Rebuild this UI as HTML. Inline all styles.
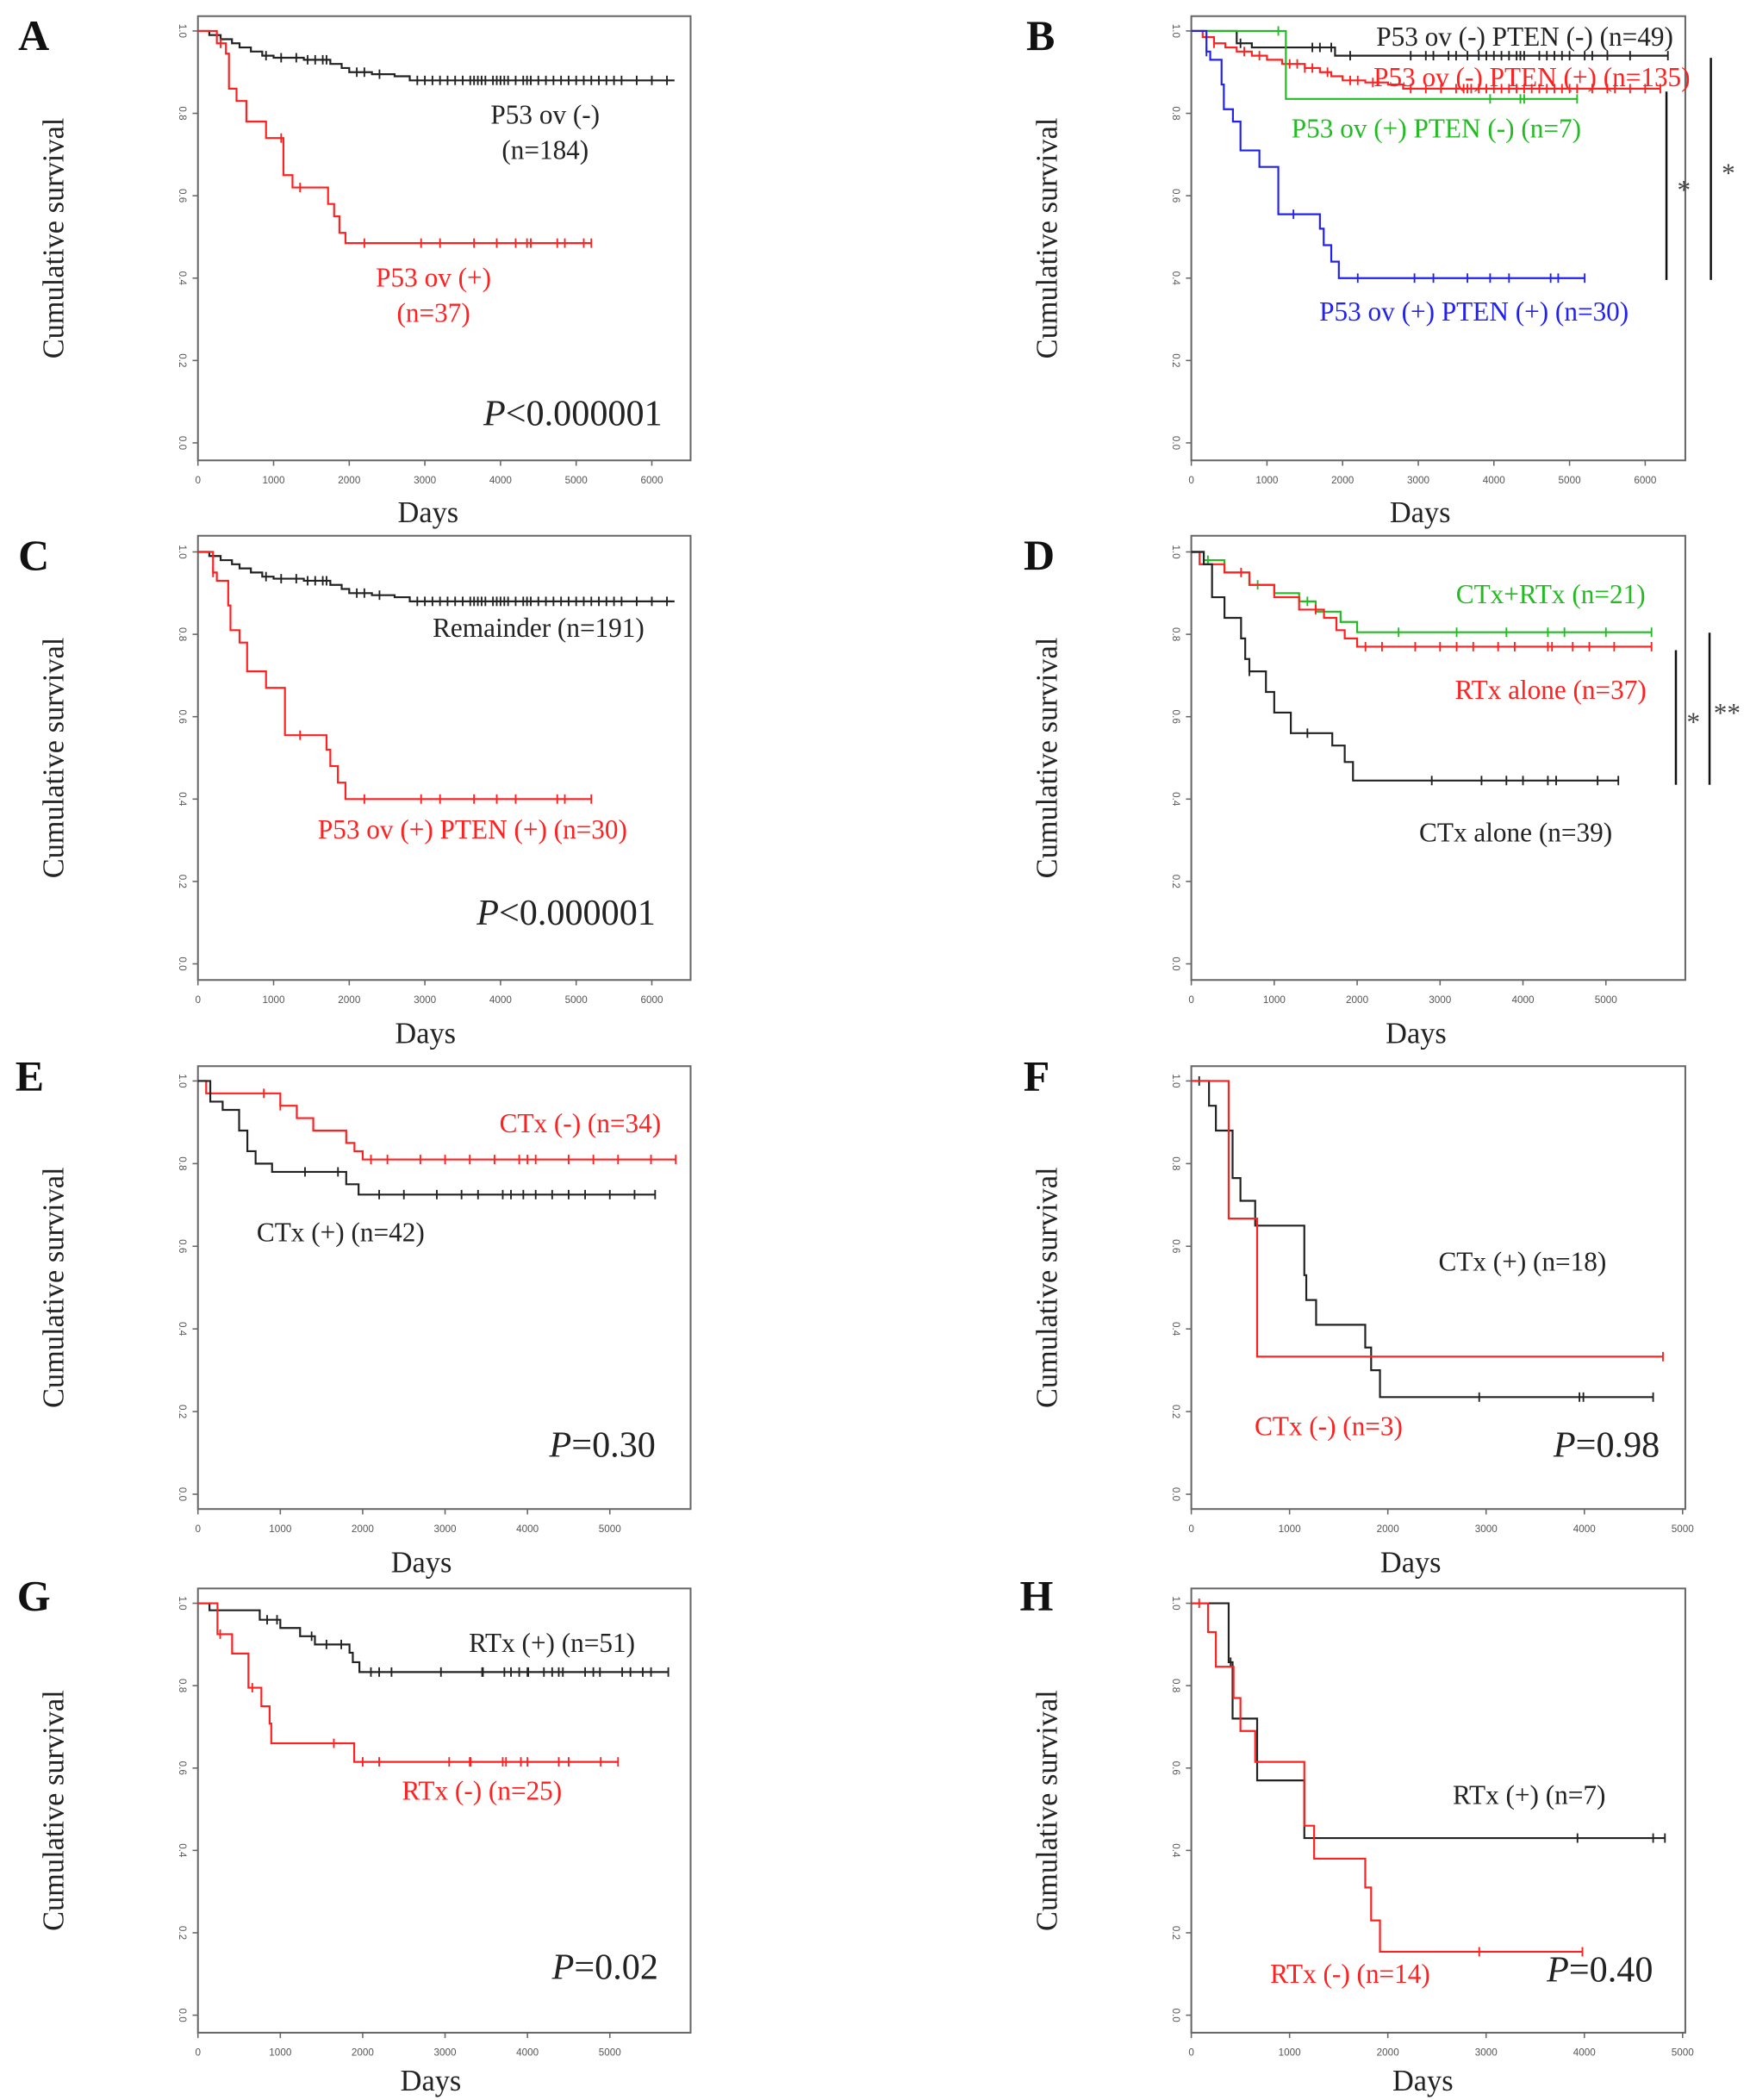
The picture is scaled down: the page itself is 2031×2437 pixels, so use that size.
<!DOCTYPE html>
<html><head><meta charset="utf-8">
<style>
html,body{margin:0;padding:0;background:#fff;}
svg{display:block;}
text{font-family:"Liberation Serif",serif;}
.tk{font-family:"Liberation Sans",sans-serif;font-size:7.5px;fill:#555;}
</style></head>
<body>
<svg id="fig" width="2031" height="2437" viewBox="0 0 1300 1560" xmlns="http://www.w3.org/2000/svg"></svg>
<script>
// ---- data arrays (time in days, survival probability) ----
const yTicks = [0.0, 0.2, 0.4, 0.6, 0.8, 1.0];
const xTicks6 = [0,1000,2000,3000,4000,5000,6000];
const xTicks5 = [0,1000,2000,3000,4000,5000];

const A_negT = [0,150,300,450,550,700,850,1000,1400,1750,1900,2000,2300,2600,2800];
const A_negS = [1,0.99,0.98,0.97,0.96,0.95,0.94,0.935,0.93,0.92,0.91,0.90,0.895,0.89,0.88];
const A_negEnd = 6300;
const A_negCens = [900,1100,1300,1450,1550,1650,1700,2100,2200,2400,2900,3000,3100,3200,3300,3400,3500,3600,3650,3700,3750,3800,3900,3950,4000,4050,4100,4200,4300,4350,4400,4500,4600,4700,4800,4900,5000,5100,5200,5300,5400,5500,5600,5800,6000,6200];
const A_posT = [0,250,370,410,510,640,900,1130,1250,1720,1800,1870,1950];
const A_posS = [1,0.97,0.945,0.86,0.83,0.78,0.74,0.65,0.62,0.58,0.55,0.51,0.485];
const A_posEnd = 5200;
const A_posCens = [300,1100,1350,2200,2950,3200,3650,3950,4200,4350,4400,4750,4850,5100,5200];

const B_nnT = [0,600,800,1900];
const B_nnS = [1,0.97,0.96,0.94];
const B_nnEnd = 6300;
const B_nnCens = [650,1600,1700,1850,2100,2900,3100,3200,3400,3500,3650,3800,3900,4000,4100,4200,4300,4350,4400,4600,4700,4800,4900,5000,5200,5300,5500,5800,6300];
const B_npT = [0,150,300,450,600,800,1000,1200,1500,1700,1850,2000,2300,2600,2800];
const B_npS = [1,0.985,0.97,0.96,0.95,0.94,0.93,0.92,0.91,0.90,0.89,0.88,0.875,0.87,0.86];
const B_npEnd = 6200;
const B_npCens = [300,700,900,1300,1400,1500,1600,1800,2100,2200,2400,2900,3100,3300,3500,3600,3650,3700,3800,3900,4000,4100,4200,4300,4400,4500,4600,4700,4800,4900,5000,5100,5300,5500,5600,5800,6000,6200];
const B_pnT = [0,1250];
const B_pnS = [1,0.835];
const B_pnEnd = 5100;
const B_pnCens = [1150,3950,4350,4400,5100];
const B_ppT = [0,200,250,400,430,550,650,900,1150,1700,1750,1850,1950];
const B_ppS = [1,0.95,0.93,0.87,0.81,0.78,0.71,0.67,0.555,0.52,0.48,0.44,0.40];
const B_ppEnd = 5200;
const B_ppCens = [200,1350,2200,2950,3200,3650,3950,4200,4750,4850,5200];

const C_remT = [0,150,300,450,550,700,850,1000,1400,1750,1900,2000,2300,2600,2800];
const C_remS = [1,0.99,0.98,0.97,0.96,0.95,0.94,0.935,0.93,0.92,0.91,0.90,0.895,0.89,0.88];
const C_remEnd = 6300;
const C_remCens = A_negCens;
const C_ppT = B_ppT;
const C_ppS = B_ppS;
const C_ppEnd = 5200;
const C_ppCens = [200,1350,2200,2950,3200,3650,3950,4200,4750,4850,5200];

const D_crT = [0,150,400,700,1000,1300,1500,1800,2000];
const D_crS = [1,0.98,0.95,0.92,0.90,0.88,0.855,0.83,0.805];
const D_crEnd = 5550;
const D_crCens = [200,800,1400,2500,3200,3800,4300,4500,5000,5550];
const D_rT = [0,100,400,700,1000,1300,1600,1750,1850,2000];
const D_rS = [1,0.97,0.95,0.92,0.89,0.86,0.84,0.81,0.79,0.77];
const D_rEnd = 5550;
const D_rCens = [600,1500,2100,2300,2700,3000,3200,3400,3700,3900,4300,4350,4600,4800,5100,5550];
const D_cT = [0,150,250,400,600,650,700,900,1000,1200,1700,1850,1950];
const D_cS = [1,0.97,0.89,0.84,0.79,0.74,0.71,0.66,0.61,0.56,0.53,0.49,0.445];
const D_cEnd = 5150;
const D_cCens = [700,1400,2900,3500,3800,4000,4300,4400,4900,5150];

const E_nT = [0,100,1000,1200,1400,1800,1900,2000];
const E_nS = [1,0.97,0.94,0.91,0.88,0.85,0.83,0.81];
const E_nEnd = 5800;
const E_nCens = [800,1000,2100,2300,2700,3000,3300,3600,3900,4000,4100,4500,4800,5100,5500,5800];
const E_pT = [0,150,300,500,600,700,900,1800,1950];
const E_pS = [1,0.95,0.93,0.88,0.83,0.80,0.78,0.75,0.725];
const E_pEnd = 5550;
const E_pCens = [1300,1700,2200,2500,2900,3200,3400,3700,3800,3950,4100,4300,4500,4700,5000,5300,5550];

const F_pT = [0,180,250,420,500,650,1150,1170,1270,1770,1830,1920];
const F_pS = [1,0.94,0.88,0.765,0.71,0.65,0.53,0.47,0.41,0.355,0.30,0.235];
const F_pEnd = 4700;
const F_pCens = [80,2930,3950,3990,4700];
const F_nT = [0,380,670];
const F_nS = [1,0.667,0.333];
const F_nEnd = 4800;
const F_nCens = [4800];

const G_pT = [0,140,750,1000,1240,1420,1840,1880,1960];
const G_pS = [1,0.983,0.96,0.94,0.92,0.90,0.88,0.857,0.833];
const G_pEnd = 5710;
const G_pCens = [840,960,1380,1560,1740,2100,2200,2350,2950,3450,3460,3720,3800,3900,4000,4010,4200,4300,4380,4430,4700,4800,4880,5150,5250,5400,5500,5710];
const G_nT = [0,237,415,613,770,870,890,1897];
const G_nS = [1,0.925,0.878,0.795,0.75,0.708,0.66,0.615];
const G_nEnd = 5100;
const G_nCens = [270,660,1650,2000,2200,3050,3300,3310,3700,3740,3920,4000,4380,4500,4890,5100];

const H_pT = [0,380,420,670,1150];
const H_pS = [1,0.857,0.72,0.57,0.43];
const H_pEnd = 4820;
const H_pCens = [400,3930,4700,4820];
const H_nT = [0,170,250,430,500,650,1150,1250,1770,1830,1920];
const H_nS = [1,0.93,0.846,0.77,0.69,0.615,0.46,0.38,0.31,0.23,0.154];
const H_nEnd = 3980;
const H_nCens = [80,2930,3980];

const RED='#ff2020', BLK='#222', GRN='#22bb22', BLU='#2222ee';
const NS='http://www.w3.org/2000/svg';
const svg=document.getElementById('fig');
function mk(tag,attrs,parent){const e=document.createElementNS(NS,tag);for(const k in attrs)e.setAttribute(k,attrs[k]);(parent||svg).appendChild(e);return e;}
function txt(s,attrs,parent){const e=mk('text',attrs,parent);e.textContent=s;return e;}

function panel(p){
  const g=mk('g',{});
  
  
  const L=p.box[0],T=p.box[1],R=p.box[2],B=p.box[3];
  const sx=t=>p.x0+(t/1000)*p.xk;
  const sy=v=>p.y0-v*(p.y0-p.y1);
  const frame=mk('rect',{x:L,y:T,width:R-L,height:B-T,fill:'none',stroke:'#666','stroke-width':1.3},g);
  
  
  yTicks.forEach(v=>{
    mk('line',{x1:L-4,x2:L,y1:sy(v),y2:sy(v),stroke:'#666','stroke-width':1},g);
    const t=txt(v.toFixed(1),{x:L-12,y:sy(v),class:'tk','text-anchor':'middle',transform:`rotate(90 ${L-12} ${sy(v)})`,'dominant-baseline':'middle'},g);
    
    
  });
  p.xt.forEach(v=>{
    mk('line',{x1:sx(v),x2:sx(v),y1:B,y2:B+4,stroke:'#666','stroke-width':1},g);
    const t=txt(String(v),{x:sx(v),y:B+17,class:'tk','text-anchor':'middle'},g);
    
    
  });
  p.series.forEach(s=>{
    let d=`M${sx(0)},${sy(s.S[0])}`;
    for(let i=1;i<s.T.length;i++){d+=` H${sx(s.T[i])} V${sy(s.S[i])}`;}
    d+=` H${sx(s.end)}`;
    const path=mk('path',{d:d,fill:'none',stroke:s.c,'stroke-width':1.4},g);
    
    
    s.cens.forEach(t=>{
      let v=s.S[0];
      for(let i=0;i<s.T.length;i++){if(s.T[i]<=t)v=s.S[i];}
      const m=mk('line',{x1:sx(t),x2:sx(t),y1:sy(v)-3.5,y2:sy(v)+3.5,stroke:s.c,'stroke-width':1.2},g);
      
      
    });
  });
  p.labels.forEach(l=>{
    const t=txt(l[0],{x:l[1],y:l[2],fill:l[3],'font-size':l[5]||20,'text-anchor':l[4]||'middle'},g);
    
    
  });
  if(p.pval){
    const t=mk('text',{x:p.pval[1],y:p.pval[2],'font-size':27,'text-anchor':'end',fill:'#222'},g);
    
    
    const a=mk('tspan',{'font-style':'italic'},t);a.textContent='P';
    const b=mk('tspan',{},t);b.textContent=p.pval[0];
  }
  const yl=txt('Cumulative survival',{x:p.ylx,y:(T+B)/2,'font-size':22,'text-anchor':'middle',transform:`rotate(-90 ${p.ylx} ${(T+B)/2})`,fill:'#222'},g);
  
  
  const xl=txt('Days',{x:p.days[0],y:p.days[1],'font-size':22,'text-anchor':'middle',fill:'#222'},g);
  
  
  const le=txt(p.id,{x:p.let[0],y:p.let[1],'font-size':32,'font-weight':'bold','text-anchor':'middle',fill:'#111'},g);
  
  
  (p.sig||[]).forEach(s=>{
    mk('line',{x1:s[0],x2:s[0],y1:s[1],y2:s[2],stroke:'#111','stroke-width':1.6},g);
    const t=txt(s[3],{x:s[0]+13,y:(s[1]+s[2])/2+10,'font-size':20,'text-anchor':'middle',fill:'#444'},g);
    
    
  });
}

const panels=[
 {id:'A',box:[147,12,513,342],x0:147,xk:56.2,y0:329,y1:23,xt:xTicks6,ylx:47,days:[318,388],let:[25,37],
  series:[{T:A_negT,S:A_negS,end:A_negEnd,cens:A_negCens,c:BLK},{T:A_posT,S:A_posS,end:A_posEnd,cens:A_posCens,c:RED}],
  labels:[['P53 ov (-)',405,92,BLK],['(n=184)',405,118,BLK],['P53 ov (+)',322,213,RED],['(n=37)',322,239,RED]],pval:['<0.000001',492,316]},
 {id:'B',box:[885,12,1252,342],x0:885,xk:56.2,y0:329,y1:23,xt:xTicks6,ylx:785,days:[1055,388],let:[773,37],
  series:[{T:B_nnT,S:B_nnS,end:B_nnEnd,cens:B_nnCens,c:BLK},{T:B_npT,S:B_npS,end:B_npEnd,cens:B_npCens,c:RED},{T:B_pnT,S:B_pnS,end:B_pnEnd,cens:B_pnCens,c:GRN},{T:B_ppT,S:B_ppS,end:B_ppEnd,cens:B_ppCens,c:BLU}],
  labels:[['P53 ov (-) PTEN (-) (n=49)',1243,34,BLK,'end'],['P53 ov (-) PTEN (+) (n=135)',1138,64,RED],['P53 ov (+) PTEN (-) (n=7)',1067,102,GRN],['P53 ov (+) PTEN (+) (n=30)',1095,238,BLU]],
  sig:[[1238,68,208,'*'],[1271,43,208,'*']]},
 {id:'C',box:[147,398,513,728],x0:147,xk:56.2,y0:716,y1:410,xt:xTicks6,ylx:47,days:[316,775],let:[25,423],
  series:[{T:C_remT,S:C_remS,end:C_remEnd,cens:C_remCens,c:BLK},{T:C_ppT,S:C_ppS,end:C_ppEnd,cens:C_ppCens,c:RED}],
  labels:[['Remainder (n=191)',400,473,BLK],['P53 ov (+) PTEN (+) (n=30)',351,623,RED]],pval:['<0.000001',487,687]},
 {id:'D',box:[885,398,1252,728],x0:885,xk:61.6,y0:716,y1:410,xt:xTicks5,ylx:785,days:[1052,775],let:[772,423],
  series:[{T:D_crT,S:D_crS,end:D_crEnd,cens:D_crCens,c:GRN},{T:D_rT,S:D_rS,end:D_rEnd,cens:D_rCens,c:RED},{T:D_cT,S:D_cS,end:D_cEnd,cens:D_cCens,c:BLK}],
  labels:[['CTx+RTx (n=21)',1152,448,GRN],['RTx alone (n=37)',1152,519,RED],['CTx alone (n=39)',1126,625,BLK]],
  sig:[[1245,483,583,'*'],[1270,470,583,'**']]},
 {id:'E',box:[147,792,513,1121],x0:147,xk:61.2,y0:1110,y1:803,xt:xTicks5,ylx:47,days:[313,1168],let:[22,810],
  series:[{T:E_nT,S:E_nS,end:E_nEnd,cens:E_nCens,c:RED},{T:E_pT,S:E_pS,end:E_pEnd,cens:E_pCens,c:BLK}],
  labels:[['CTx (-) (n=34)',431,841,RED],['CTx (+) (n=42)',253,922,BLK]],pval:['=0.30',487,1082]},
 {id:'F',box:[885,792,1252,1121],x0:885,xk:73,y0:1110,y1:803,xt:xTicks5,ylx:785,days:[1048,1168],let:[770,810],
  series:[{T:F_pT,S:F_pS,end:F_pEnd,cens:F_pCens,c:BLK},{T:F_nT,S:F_nS,end:F_nEnd,cens:F_nCens,c:RED}],
  labels:[['CTx (+) (n=18)',1131,944,BLK],['CTx (-) (n=3)',987,1066,RED]],pval:['=0.98',1233,1082]},
 {id:'G',box:[147,1180,513,1510],x0:147,xk:61.2,y0:1497,y1:1191,xt:xTicks5,ylx:47,days:[320,1553],let:[25,1196],
  series:[{T:G_pT,S:G_pS,end:G_pEnd,cens:G_pCens,c:BLK},{T:G_nT,S:G_nS,end:G_nEnd,cens:G_nCens,c:RED}],
  labels:[['RTx (+) (n=51)',410,1227,BLK],['RTx (-) (n=25)',358,1337,RED]],pval:['=0.02',489,1470]},
 {id:'H',box:[885,1180,1252,1510],x0:885,xk:73,y0:1497,y1:1191,xt:xTicks5,ylx:785,days:[1057,1553],let:[770,1196],
  series:[{T:H_pT,S:H_pS,end:H_pEnd,cens:H_pCens,c:BLK},{T:H_nT,S:H_nS,end:H_nEnd,cens:H_nCens,c:RED}],
  labels:[['RTx (+) (n=7)',1136,1340,BLK],['RTx (-) (n=14)',1003,1473,RED]],pval:['=0.40',1228,1472]}
];
panels.forEach(panel);
</script>
</body></html>
